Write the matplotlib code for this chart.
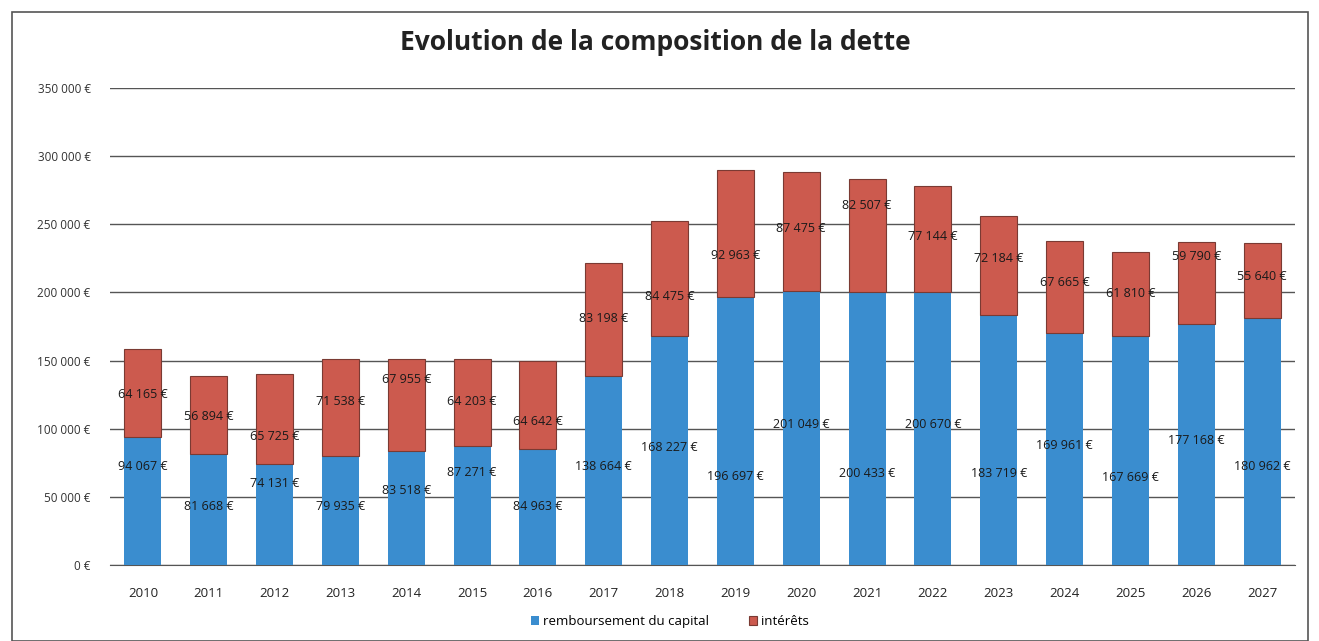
import matplotlib
matplotlib.use("Agg")
import matplotlib.pyplot as plt
from matplotlib.patches import Rectangle

years = ["2010", "2011", "2012", "2013", "2014", "2015", "2016", "2017", "2018",
         "2019", "2020", "2021", "2022", "2023", "2024", "2025", "2026", "2027"]
capital = [94067, 81668, 74131, 79935, 83518, 87271, 84963, 138664, 168227,
           196697, 201049, 200433, 200670, 183719, 169961, 167669, 177168, 180962]
interets = [64165, 56894, 65725, 71538, 67955, 64203, 64642, 83198, 84475,
            92963, 87475, 82507, 77144, 72184, 67665, 61810, 59790, 55640]
# label heights (as placed in the original chart)
cap_label_y = [72600, 43000, 60000, 43000, 55000, 68000, 43000, 72000, 86000,
               65000, 103000, 67000, 103000, 67500, 88000, 64000, 91000, 72600]
int_label_y = [125000, 109000, 94000, 120000, 136000, 120000, 105000, 181000, 197000,
               227000, 247000, 264000, 241000, 225000, 207000, 199000, 226000, 212000]

plt.rcParams['font.family'] = ['Open Sans', 'DejaVu Sans']

def eur(v):
    return f"{v:,.0f}".replace(",", " ") + " €"

fig = plt.figure(figsize=(13.19, 6.41), dpi=100)
fig.patch.set_facecolor("white")
fig.patches.append(Rectangle((12/1319, 0.0), (1308-12)/1319, 1-12/641, transform=fig.transFigure,
                             fill=False, edgecolor="#555555", linewidth=1.2))

ax = fig.add_axes([110/1319, 76/641, (1295-110)/1319, (565-88)/641])
x = list(range(len(years)))
blue = "#3a8dcf"
red = "#cc5a4e"
b1 = ax.bar(x, capital, width=0.56, color=blue, label="remboursement du capital", zorder=3)
b2 = ax.bar(x, interets, width=0.56, bottom=capital, color=red, edgecolor="#7a3a33",
            linewidth=0.8, label="intérêts", zorder=3)

for i in x:
    ax.text(i, cap_label_y[i], eur(capital[i]), ha="center", va="center", fontsize=9,
            color="#1a1a1a", zorder=4)
    ax.text(i, int_label_y[i], eur(interets[i]), ha="center", va="center", fontsize=9,
            color="#1a1a1a", zorder=4)

ax.set_ylim(0, 350000)
ax.set_xlim(-0.5, len(years) - 0.5)
ax.set_yticks(range(0, 350001, 50000))
ax.set_yticklabels([eur(v) for v in range(0, 350001, 50000)], fontsize=8.5, color="#333333")
ax.set_xticks(x)
ax.set_xticklabels(years, fontsize=9.5, color="#222222")
ax.tick_params(axis="x", length=0, pad=16)
ax.tick_params(axis="y", length=0, pad=14)
ax.grid(axis="y", color="#555555", linewidth=1.0, zorder=0)
for s in ["top", "right", "left"]:
    ax.spines[s].set_visible(False)
ax.spines["bottom"].set_color("#555555")

fig.text(0.4966, 0.934, "Evolution de la composition de la dette", ha="center", va="center",
         fontsize=19, fontweight="bold", color="#222222")
fig.legend(handles=[b1, b2], loc="center", bbox_to_anchor=(0.508, 0.03), ncol=2, frameon=False,
           fontsize=9.5, handlelength=0.6, handleheight=0.6, columnspacing=3.0, handletextpad=0.3)

fig.savefig("out.png", dpi=100)
